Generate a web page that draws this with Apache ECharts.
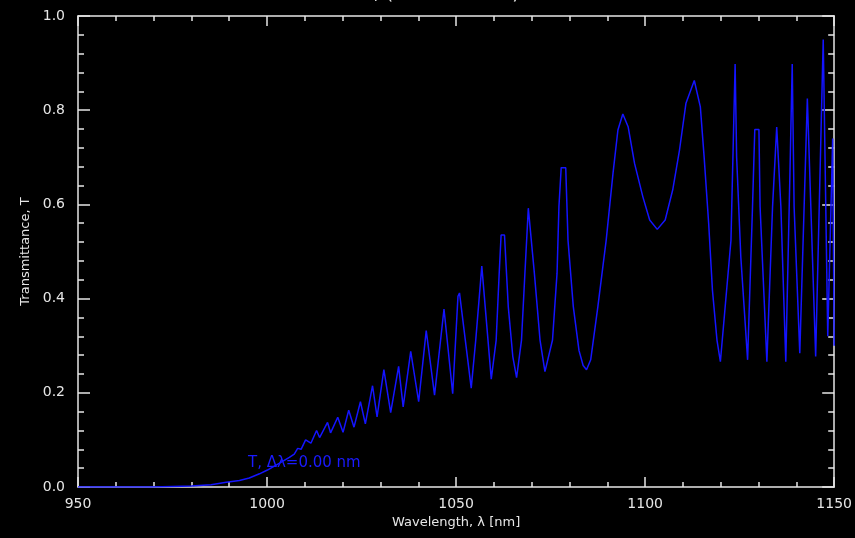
<!DOCTYPE html>
<html>
<head>
<meta charset="utf-8">
<script src="https://cdn.jsdelivr.net/npm/echarts@6/dist/echarts.min.js"></script>
<style>
  html, body { margin: 0; padding: 0; background: #000; }
  #chart { width: 855px; height: 538px; }
</style>
</head>
<body>
<div id="chart"></div>
<script>
// Wavelength samples (nm) and transmittance of the etalon at each sample
const wavelengths = [
  950, 960, 969.4, 975, 980, 985.2, 989.2, 992.7, 995.3, 998, 1000.1,
  1003.2, 1005.9, 1007.2, 1008.1, 1009, 1010.2, 1011.6, 1013.1, 1013.9,
  1016, 1016.8, 1018.7, 1020.1, 1021.6, 1023, 1024.7, 1026, 1027.9, 1029.1,
  1030.9, 1032.7, 1034.8, 1036, 1038, 1040.1, 1042.1, 1044.3, 1046.8, 1049.1,
  1050.5, 1050.9, 1054, 1055.2, 1056.8, 1059.3, 1060.6, 1061.4, 1061.9, 1062.8,
  1063.8, 1065, 1066, 1067.3, 1068.2, 1069.1, 1069.6, 1070.7, 1072.2, 1073.5,
  1075.5, 1076.7, 1077.2, 1077.8, 1079, 1079.6, 1081, 1082.5, 1083.6, 1084.5,
  1085.6, 1087.5, 1089.7, 1091.5, 1092.8, 1094.1, 1095.5, 1097.2, 1099.4, 1101.2, 1103.2,
  1105.3, 1107.3, 1109.1, 1110.8, 1113, 1114.6, 1115.6, 1116.8, 1117.8, 1119, 1119.9,
  1122.7, 1123.8, 1124.2, 1125.3, 1127.1, 1128.4, 1129, 1130.1, 1130.4, 1132.2,
  1133.7, 1134.8, 1135.9, 1137.2, 1138.3, 1138.9, 1139.4, 1140.9, 1142.9, 1145.1,
  1147.1, 1148.3, 1149.6, 1150
];
const transmittance = [
  0, 0, 0, 0.001, 0.002, 0.005, 0.010, 0.014, 0.019, 0.028, 0.036,
  0.050, 0.063, 0.070, 0.082, 0.080, 0.100, 0.093, 0.120, 0.105,
  0.137, 0.115, 0.148, 0.116, 0.163, 0.127, 0.181, 0.134, 0.215, 0.149,
  0.249, 0.158, 0.256, 0.170, 0.288, 0.181, 0.332, 0.195, 0.378, 0.198,
  0.405, 0.412, 0.210, 0.312, 0.469, 0.229, 0.312, 0.454, 0.535, 0.535,
  0.383, 0.277, 0.232, 0.312, 0.454, 0.592, 0.592, 0.454, 0.312, 0.245,
  0.312, 0.454, 0.595, 0.678, 0.678, 0.524, 0.383, 0.290, 0.258, 0.249,
  0.270, 0.383, 0.524, 0.666, 0.758, 0.792, 0.765, 0.687, 0.616, 0.567, 0.547,
  0.567, 0.631, 0.716, 0.815, 0.863, 0.807, 0.701, 0.560, 0.418, 0.312, 0.266,
  0.524, 0.898, 0.700, 0.489, 0.270, 0.595, 0.759, 0.759, 0.595, 0.266,
  0.595, 0.764, 0.595, 0.266, 0.666, 0.898, 0.595, 0.284, 0.825, 0.277,
  0.950, 0.320, 0.740, 0.300
];
const xTicks = [950, 1000, 1050, 1100, 1150];
const yTicks = [0.0, 0.2, 0.4, 0.6, 0.8, 1.0];

const series = wavelengths.map((w, i) => [w, transmittance[i]]);

const FG = '#e6e6e6';
const FONT = 'DejaVu Sans';

function xAxisDef(pos, show) {
  return {
    type: 'value', position: pos, min: xTicks[0], max: xTicks[xTicks.length - 1], interval: 50,
    axisLine: { show: true, onZero: false, lineStyle: { color: FG, width: 1.5 } },
    axisTick: { show: true, inside: true, length: 10, lineStyle: { color: FG, width: 1.5 } },
    minorTick: { show: true, splitNumber: 5, length: 5, lineStyle: { color: FG, width: 1.5 } },
    axisLabel: { show: show, color: FG, fontFamily: FONT, fontSize: 14, margin: 10,
      formatter: v => String(v) },
    splitLine: { show: false },
    name: show ? 'Wavelength, λ [nm]' : '', nameLocation: 'middle', nameGap: 29,
    nameTextStyle: { color: FG, fontFamily: FONT, fontSize: 13 }
  };
}
function yAxisDef(pos, show) {
  return {
    type: 'value', position: pos, min: yTicks[0], max: yTicks[yTicks.length - 1], interval: 0.2,
    axisLine: { show: true, onZero: false, lineStyle: { color: FG, width: 1.5 } },
    axisTick: { show: true, inside: true, length: 12, lineStyle: { color: FG, width: 1.5 } },
    minorTick: { show: true, splitNumber: 5, length: 6, lineStyle: { color: FG, width: 1.5 } },
    axisLabel: { show: show, color: FG, fontFamily: FONT, fontSize: 14, margin: 13,
      formatter: v => v.toFixed(1) },
    splitLine: { show: false },
    name: show ? 'Transmittance, T' : '', nameLocation: 'middle', nameGap: 46,
    nameTextStyle: { color: FG, fontFamily: FONT, fontSize: 13 }
  };
}

const chart = echarts.init(document.getElementById('chart'), null, { renderer: 'canvas' });
chart.setOption({
  backgroundColor: '#000',
  animation: false,
  grid: { left: 78, right: 18, top: 16, bottom: 51 },
  xAxis: [xAxisDef('bottom', true), xAxisDef('top', false)],
  yAxis: [yAxisDef('left', true), yAxisDef('right', false)],
  graphic: [
    // plot title, clipped by the top edge of the page
    { type: 'text', left: 362, top: -15,
      style: { text: 'T, (Δλ=0.00 nm)', fill: FG, font: '19px "DejaVu Sans"' } },
    { type: 'text', left: 248, top: 456,
      style: { text: 'T, Δλ=0.00 nm', fill: '#1a1aff', font: '15px "DejaVu Sans"' } }
  ],
  series: [{
    type: 'line', xAxisIndex: 0, yAxisIndex: 0, data: series,
    showSymbol: false, smooth: false,
    lineStyle: { color: '#1414ff', width: 1.5 }
  }]
});
</script>
</body>
</html>
